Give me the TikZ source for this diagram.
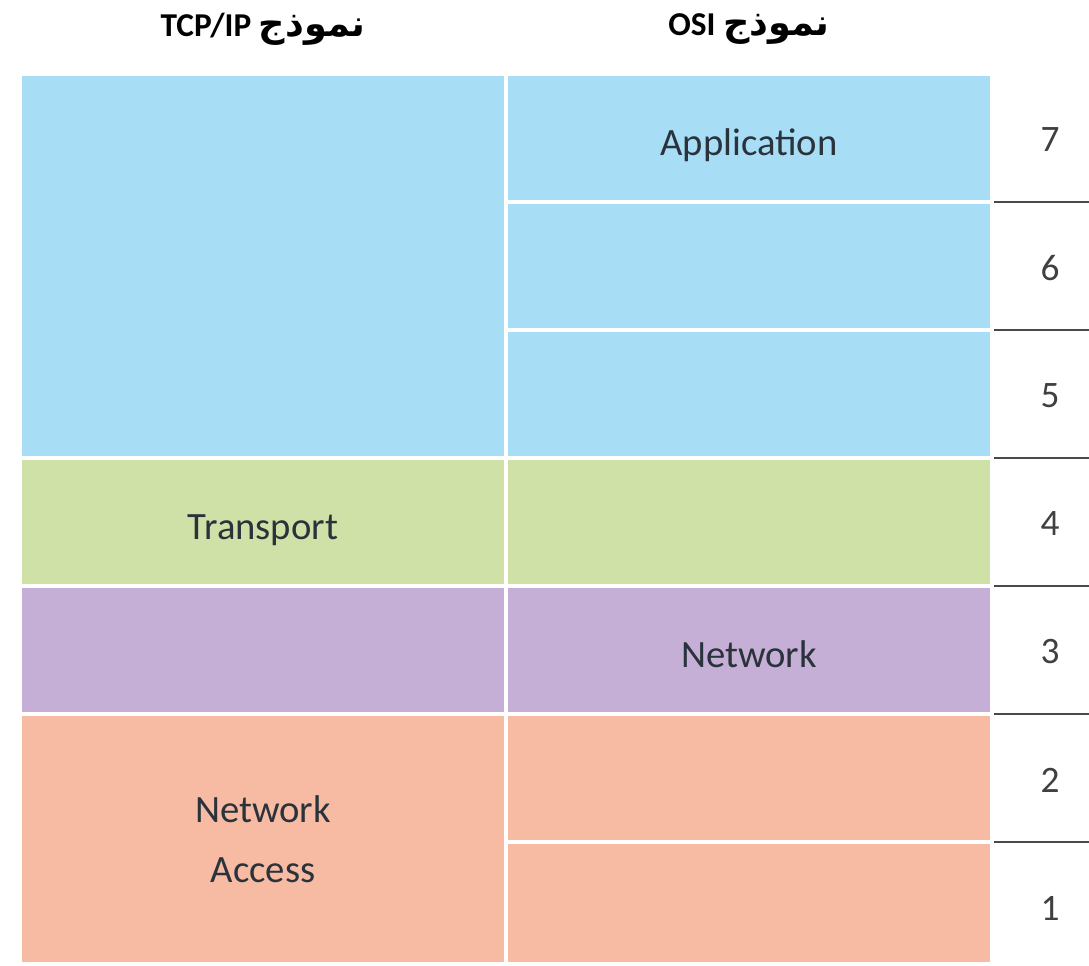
\documentclass[tikz,border=0pt]{standalone}
\usepackage{fontspec}
\setmainfont{Carlito}
\newfontfamily\arabicfont[Script=Arabic,Scale=1.1]{DejaVu Sans}
\TeXXeTstate=1

\definecolor{layerBlue}{HTML}{A8DDF6}
\definecolor{layerGreen}{HTML}{CFE1A6}
\definecolor{layerPurple}{HTML}{C5AFD6}
\definecolor{layerSalmon}{HTML}{F7BBA4}
\definecolor{cellText}{HTML}{2A333B}
\definecolor{ruleGray}{HTML}{4A4A4A}

\begin{document}
\begin{tikzpicture} [
		x = 0.75pt,
		y = -0.75pt,
		cell/.style = {
			rectangle,
			inner sep = 0pt,
			outer sep = 0pt,
			align = center,
			minimum width = 361.5pt,
			minimum height = 93pt,
			text height = 26pt,
			text depth = 0pt,
			text = cellText,
			font = \fontsize{29}{45}\selectfont,
		},
		two-lines/.style = {
			text height = ,
			text depth = ,
		},
		header/.style = {
			text = black,
			font = \bfseries\fontsize{25}{30}\selectfont,
		},
		layer-num/.style = {
			text = black!75,
			font = \fontsize{28}{34}\selectfont,
		},
		layer-rule/.style = {
			draw = ruleGray,
			line width = 1.5pt,
		},
		app/.style = {
			fill = layerBlue,
		},
		transport/.style = {
			fill = layerGreen,
		},
		network/.style = {
			fill = layerPurple,
		},
		access/.style = {
			fill = layerSalmon,
		}
	]

	\useasboundingbox (0,0) rectangle (1089,965);

	% headers
	\node[header] (hdrTCP) at (263,29) {\beginR{\arabicfont نموذج} \beginL TCP/IP\endL\endR};
	\node[header] (hdrOSI) at (749,29) {\beginR{\arabicfont نموذج} \beginL OSI\endL\endR};

	% TCP/IP column
	\node[cell, app, minimum height = 285pt] (tcpApp) at (263,266) {};
	\node[cell, transport] (tcpTransport) at (263,522) {Transport};
	\node[cell, network] (tcpInternet) at (263,650) {};
	\node[cell, access, two-lines, minimum height = 184.5pt] (tcpAccess) at (263,839) {Network\\Access};

	% OSI column
	\node[cell, app] (osiApplication) at (749,138) {Application};
	\node[cell, app] (osiPresentation) at (749,266) {};
	\node[cell, app] (osiSession) at (749,394) {};
	\node[cell, transport] (osiTransport) at (749,522) {};
	\node[cell, network] (osiNetwork) at (749,650) {Network};
	\node[cell, access] (osiDataLink) at (749,778) {};
	\node[cell, access, minimum height = 88.5pt] (osiPhysical) at (749,903) {};

	% layer numbers
	\node[layer-num] (num7) at (1050,140) {7};
	\node[layer-num] (num6) at (1050,268) {6};
	\node[layer-num] (num5) at (1050,396) {5};
	\node[layer-num] (num4) at (1050,524) {4};
	\node[layer-num] (num3) at (1050,652) {3};
	\node[layer-num] (num2) at (1050,780) {2};
	\node[layer-num] (num1) at (1050,908) {1};

	% rules between the numbers
	\coordinate (rule76) at (994,202);
	\coordinate (rule65) at (994,330);
	\coordinate (rule54) at (994,458);
	\coordinate (rule43) at (994,586);
	\coordinate (rule32) at (994,714);
	\coordinate (rule21) at (994,842);

	\begin{scope} [
		every path/.style = layer-rule
		]
		\path (rule76) -- (rule76 -| 1089,0);
		\path (rule65) -- (rule65 -| 1089,0);
		\path (rule54) -- (rule54 -| 1089,0);
		\path (rule43) -- (rule43 -| 1089,0);
		\path (rule32) -- (rule32 -| 1089,0);
		\path (rule21) -- (rule21 -| 1089,0);
	\end{scope}
\end{tikzpicture}
\end{document}
